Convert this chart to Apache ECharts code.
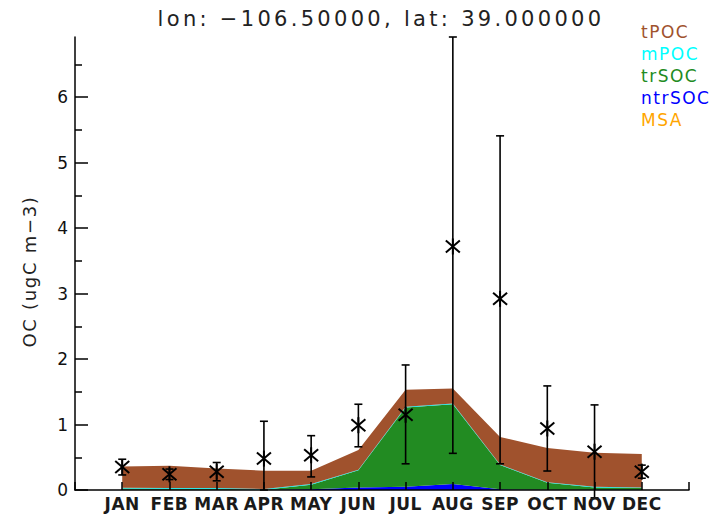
<!DOCTYPE html>
<html>
<head>
<meta charset="utf-8">
<script src="https://cdn.jsdelivr.net/npm/echarts@6/dist/echarts.min.js"></script>
<style>
html,body{margin:0;padding:0;background:#fff;}
#main{width:722px;height:519px;}
</style>
</head>
<body>
<div id="main"></div>
<script>
// ---- data ----
const titleText = 'lon: \u2212106.50000, lat: 39.000000';
const yName = 'OC (ugC m\u22123)';
const months = ['JAN','FEB','MAR','APR','MAY','JUN','JUL','AUG','SEP','OCT','NOV','DEC'];
const legendNames = ['tPOC','mPOC','trSOC','ntrSOC','MSA'];
const yTicks = [0,1,2,3,4,5,6];
const yMinorTicks = [0.5,1.5,2.5,3.5,4.5,5.5,6.5];

// stacked model components (bottom to top: MSA, ntrSOC, trSOC, mPOC, tPOC)
const MSA    = [0,0,0,0,0,0,0,0,0,0,0,0];
const ntrSOC = [0.005,0.005,0.005,0.005,0.01,0.04,0.05,0.09,0.01,0.005,0.005,0.005];
const trSOC  = [0.018,0.013,0.013,0.0,0.07,0.26,1.21,1.22,0.37,0.105,0.035,0.025];
const mPOC   = [0.012,0.012,0.012,0.01,0.01,0.01,0.01,0.01,0.01,0.01,0.01,0.01];
const tPOC   = [0.325,0.34,0.30,0.28,0.205,0.30,0.26,0.23,0.42,0.52,0.52,0.51];

// observations with error bars
const obsMean = [0.35,0.24,0.28,0.48,0.53,0.99,1.15,3.72,2.92,0.94,0.585,0.28];
const obsLow  = [0.23,0.16,0.14,0.0,0.20,0.66,0.40,0.56,0.40,0.29,-0.12,0.18];
const obsHigh = [0.47,0.32,0.42,1.05,0.83,1.31,1.91,6.92,5.41,1.59,1.30,0.38];

const colors = {tPOC:'#a0522d', mPOC:'#00e5ee', trSOC:'#228b22', ntrSOC:'#0000ff', MSA:'#ffa500'};
const legendColors = {tPOC:'#a0522d', mPOC:'#00ffff', trSOC:'#228b22', ntrSOC:'#0000ff', MSA:'#ffa500'};

const FONT = '"DejaVu Sans", sans-serif';
const chart = echarts.init(document.getElementById('main'), null, {renderer:'svg'});

// category axis with blank slots at both ends
const cats = [''].concat(months, ['']);

function areaSeries(name, vals){
  return {
    name: name, type:'line', stack:'oc', symbol:'none', silent:true,
    data: [null].concat(vals, [null]),
    lineStyle:{width:0, color:colors[name]},
    itemStyle:{color:colors[name]},
    areaStyle:{color:colors[name], opacity:1},
    z:2
  };
}

const obsData = months.map((m,i)=>[i+1, obsMean[i], obsLow[i], obsHigh[i]]);

const option = {
  animation:false,
  title:{
    text:titleText, left:381, top:8, padding:0, textAlign:'center',
    textStyle:{fontFamily:FONT, fontSize:21, fontWeight:'normal', color:'#222'}
  },
  legend:{
    orient:'vertical', left:631, top:16, itemGap:0, itemWidth:0, itemHeight:0,
    selectedMode:false, icon:'rect',
    textStyle:{fontFamily:FONT, fontSize:17, lineHeight:22},
    data: legendNames.map(n=>({name:n, textStyle:{color:legendColors[n]}}))
  },
  grid:{left:75, right:33, top:37, bottom:29},
  xAxis:{
    type:'category', data:cats, boundaryGap:false, z:10,
    axisLine:{show:true, onZero:false, lineStyle:{color:'#000', width:1.5}},
    axisTick:{show:true, inside:true, length:8, interval:0, lineStyle:{color:'#000', width:1.5}},
    axisLabel:{
      interval:0, margin:5, fontFamily:FONT, fontSize:17, fontWeight:'bold', color:'#1a1a1a'
    },
    splitLine:{show:false}
  },
  yAxis:[{
    type:'value', min:0, max:6.92, z:10,
    name:yName, nameLocation:'middle', nameGap:37,
    nameTextStyle:{fontFamily:FONT, fontSize:18, color:'#222', padding:[0,16,0,0]},
    axisLine:{show:true, lineStyle:{color:'#000', width:1.5}},
    axisTick:{show:true, inside:true, length:13, customValues:yTicks, lineStyle:{color:'#000', width:1.5}},
    axisLabel:{customValues:yTicks, margin:7, fontFamily:FONT, fontSize:17, color:'#111'},
    splitLine:{show:false}
  },{
    type:'value', min:0, max:6.92, position:'left', offset:0, z:10,
    axisLine:{show:false},
    axisTick:{show:true, inside:true, length:7, customValues:yMinorTicks, lineStyle:{color:'#000', width:1.5}},
    axisLabel:{show:false},
    splitLine:{show:false}
  }],
  series:[
    areaSeries('MSA', MSA),
    areaSeries('ntrSOC', ntrSOC),
    areaSeries('trSOC', trSOC),
    areaSeries('mPOC', mPOC),
    areaSeries('tPOC', tPOC),
    {
      name:'obs', type:'custom', clip:false, z:5, silent:true,
      data: obsData,
      encode:{x:0, y:[1,2,3]},
      renderItem:function(params, api){
        const x = api.value(0);
        const pm = api.coord([x, api.value(1)]);
        const pl = api.coord([x, api.value(2)]);
        const ph = api.coord([x, api.value(3)]);
        const st = {stroke:'#000', lineWidth:1.6, fill:null};
        const sst = {stroke:'#000', lineWidth:2, fill:null};
        const cw = 4;
        const children = [
          {type:'line', shape:{x1:pl[0], y1:pl[1], x2:ph[0], y2:ph[1]}, style:st},
          {type:'line', shape:{x1:ph[0]-cw, y1:ph[1], x2:ph[0]+cw, y2:ph[1]}, style:st},
          {type:'line', shape:{x1:pl[0]-cw, y1:pl[1], x2:pl[0]+cw, y2:pl[1]}, style:st},
          {type:'line', shape:{x1:pm[0]-7, y1:pm[1]-6, x2:pm[0]+7, y2:pm[1]+6}, style:sst},
          {type:'line', shape:{x1:pm[0]-7, y1:pm[1]+6, x2:pm[0]+7, y2:pm[1]-6}, style:sst},
          {type:'line', shape:{x1:pm[0], y1:pm[1]-8, x2:pm[0], y2:pm[1]+8}, style:sst}
        ];
        return {type:'group', children:children};
      }
    }
  ]
};
chart.setOption(option);

function applySpacing(){
  document.querySelectorAll('#main text').forEach(t=>{
    const s = t.textContent || '';
    let ls = 0;
    if (s.indexOf('lon') === 0) ls = 3.3;
    else if (months.indexOf(s) >= 0) ls = 0.5;
    else if (legendNames.indexOf(s) >= 0) ls = 1.5;
    else if (s.indexOf('OC') === 0) ls = 1.7;
    if (ls) t.style.letterSpacing = ls + 'px';
  });
}
chart.on('finished', applySpacing);
applySpacing();
</script>
</body>
</html>
